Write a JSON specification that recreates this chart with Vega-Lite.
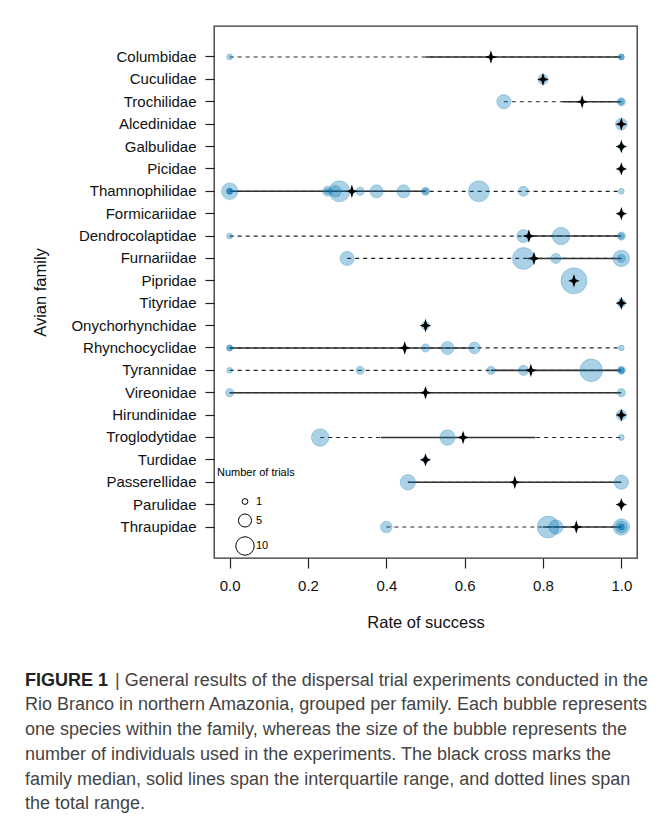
{
  "$schema": "https://vega.github.io/schema/vega-lite/v6.json",
  "width": 423,
  "height": 532,
  "autosize": {"type": "none"},
  "padding": {"left": 214, "top": 26, "right": 22, "bottom": 269},
  "background": "white",
  "config": {
    "font": "Liberation Sans",
    "view": {"stroke": "#333", "strokeWidth": 1.3},
    "axis": {"grid": false, "domain": false, "tickColor": "#222", "tickWidth": 1.2, "labelColor": "#111", "labelFont": "Liberation Sans", "titleFont": "Liberation Sans", "titleFontWeight": "normal", "titleColor": "#111"}
  },
  "title": {
    "text": "FIGURE 1",
    "subtitle": [
      "\u200b\u00a0\u00a0\u00a0\u00a0\u00a0\u00a0\u00a0\u00a0\u00a0\u00a0\u00a0\u00a0\u00a0\u00a0\u00a0\u00a0\u00a0\u00a0| General results of the dispersal trial experiments conducted in the",
      "Rio Branco in northern Amazonia, grouped per family. Each bubble represents",
      "one species within the family, whereas the size of the bubble represents the",
      "number of individuals used in the experiments. The black cross marks the",
      "family median, solid lines span the interquartile range, and dotted lines span",
      "the total range."
    ],
    "orient": "bottom",
    "anchor": "start",
    "frame": "group",
    "dx": -189,
    "offset": 41,
    "font": "Liberation Sans",
    "fontSize": 18,
    "fontWeight": "bold",
    "color": "#222",
    "subtitleFont": "Liberation Sans",
    "subtitleFontSize": 18,
    "subtitleColor": "#444",
    "subtitleLineHeight": 24.75,
    "lineHeight": 24.75,
    "subtitlePadding": -18
  },
  "datasets": {
    "points": [
      {"family": "Columbidae", "rate": 0, "n": 1},
      {"family": "Columbidae", "rate": 1, "n": 1},
      {"family": "Columbidae", "rate": 1, "n": 1},
      {"family": "Cuculidae", "rate": 0.8, "n": 3},
      {"family": "Trochilidae", "rate": 0.7, "n": 6},
      {"family": "Trochilidae", "rate": 1, "n": 2},
      {"family": "Trochilidae", "rate": 1, "n": 1},
      {"family": "Alcedinidae", "rate": 1, "n": 4},
      {"family": "Galbulidae", "rate": 1, "n": 1},
      {"family": "Galbulidae", "rate": 1, "n": 1},
      {"family": "Picidae", "rate": 1, "n": 1},
      {"family": "Thamnophilidae", "rate": 0, "n": 8},
      {"family": "Thamnophilidae", "rate": 0, "n": 1},
      {"family": "Thamnophilidae", "rate": 0, "n": 1},
      {"family": "Thamnophilidae", "rate": 0, "n": 1},
      {"family": "Thamnophilidae", "rate": 0.25, "n": 3},
      {"family": "Thamnophilidae", "rate": 0.25, "n": 1},
      {"family": "Thamnophilidae", "rate": 0.28, "n": 13},
      {"family": "Thamnophilidae", "rate": 0.27, "n": 4},
      {"family": "Thamnophilidae", "rate": 0.333, "n": 2},
      {"family": "Thamnophilidae", "rate": 0.375, "n": 5},
      {"family": "Thamnophilidae", "rate": 0.444, "n": 5},
      {"family": "Thamnophilidae", "rate": 0.5, "n": 2},
      {"family": "Thamnophilidae", "rate": 0.5, "n": 1},
      {"family": "Thamnophilidae", "rate": 0.636, "n": 13},
      {"family": "Thamnophilidae", "rate": 0.75, "n": 3},
      {"family": "Thamnophilidae", "rate": 1, "n": 1},
      {"family": "Formicariidae", "rate": 1, "n": 1},
      {"family": "Dendrocolaptidae", "rate": 0, "n": 1},
      {"family": "Dendrocolaptidae", "rate": 0.75, "n": 5},
      {"family": "Dendrocolaptidae", "rate": 0.846, "n": 9},
      {"family": "Dendrocolaptidae", "rate": 1, "n": 2},
      {"family": "Dendrocolaptidae", "rate": 1, "n": 1},
      {"family": "Furnariidae", "rate": 0.3, "n": 6},
      {"family": "Furnariidae", "rate": 0.75, "n": 14},
      {"family": "Furnariidae", "rate": 0.833, "n": 3},
      {"family": "Furnariidae", "rate": 1, "n": 8},
      {"family": "Furnariidae", "rate": 1, "n": 2},
      {"family": "Pipridae", "rate": 0.879, "n": 20},
      {"family": "Tityridae", "rate": 1, "n": 2},
      {"family": "Tityridae", "rate": 1, "n": 1},
      {"family": "Onychorhynchidae", "rate": 0.5, "n": 2},
      {"family": "Rhynchocyclidae", "rate": 0, "n": 1},
      {"family": "Rhynchocyclidae", "rate": 0, "n": 1},
      {"family": "Rhynchocyclidae", "rate": 0.5, "n": 2},
      {"family": "Rhynchocyclidae", "rate": 0.556, "n": 5},
      {"family": "Rhynchocyclidae", "rate": 0.625, "n": 4},
      {"family": "Rhynchocyclidae", "rate": 1, "n": 1},
      {"family": "Tyrannidae", "rate": 0, "n": 1},
      {"family": "Tyrannidae", "rate": 0.333, "n": 2},
      {"family": "Tyrannidae", "rate": 0.667, "n": 2},
      {"family": "Tyrannidae", "rate": 0.75, "n": 3},
      {"family": "Tyrannidae", "rate": 0.923, "n": 15},
      {"family": "Tyrannidae", "rate": 1, "n": 2},
      {"family": "Tyrannidae", "rate": 1, "n": 1},
      {"family": "Tyrannidae", "rate": 1, "n": 1},
      {"family": "Vireonidae", "rate": 0, "n": 2},
      {"family": "Vireonidae", "rate": 1, "n": 2},
      {"family": "Hirundinidae", "rate": 1, "n": 3},
      {"family": "Hirundinidae", "rate": 1, "n": 1},
      {"family": "Troglodytidae", "rate": 0.231, "n": 9},
      {"family": "Troglodytidae", "rate": 0.556, "n": 7},
      {"family": "Troglodytidae", "rate": 1, "n": 1},
      {"family": "Turdidae", "rate": 0.5, "n": 1},
      {"family": "Turdidae", "rate": 0.5, "n": 1},
      {"family": "Passerellidae", "rate": 0.455, "n": 7},
      {"family": "Passerellidae", "rate": 1, "n": 6},
      {"family": "Parulidae", "rate": 1, "n": 1},
      {"family": "Parulidae", "rate": 1, "n": 1},
      {"family": "Thraupidae", "rate": 0.4, "n": 4},
      {"family": "Thraupidae", "rate": 0.813, "n": 14},
      {"family": "Thraupidae", "rate": 0.833, "n": 6},
      {"family": "Thraupidae", "rate": 1, "n": 8},
      {"family": "Thraupidae", "rate": 1, "n": 4},
      {"family": "Thraupidae", "rate": 1, "n": 1},
      {"family": "Thraupidae", "rate": 1, "n": 1}
    ],
    "summary": [
      {"family": "Columbidae", "min": 0, "q1": 0.5, "median": 0.667, "q3": 1, "max": 1},
      {"family": "Cuculidae", "min": 0.8, "q1": 0.8, "median": 0.8, "q3": 0.8, "max": 0.8},
      {"family": "Trochilidae", "min": 0.7, "q1": 0.85, "median": 0.9, "q3": 1, "max": 1},
      {"family": "Alcedinidae", "min": 1, "q1": 1, "median": 1, "q3": 1, "max": 1},
      {"family": "Galbulidae", "min": 1, "q1": 1, "median": 1, "q3": 1, "max": 1},
      {"family": "Picidae", "min": 1, "q1": 1, "median": 1, "q3": 1, "max": 1},
      {"family": "Thamnophilidae", "min": 0, "q1": 0, "median": 0.312, "q3": 0.5, "max": 1},
      {"family": "Formicariidae", "min": 1, "q1": 1, "median": 1, "q3": 1, "max": 1},
      {"family": "Dendrocolaptidae", "min": 0, "q1": 0.75, "median": 0.764, "q3": 1, "max": 1},
      {"family": "Furnariidae", "min": 0.3, "q1": 0.76, "median": 0.777, "q3": 1, "max": 1},
      {"family": "Pipridae", "min": 0.879, "q1": 0.879, "median": 0.879, "q3": 0.879, "max": 0.879},
      {"family": "Tityridae", "min": 1, "q1": 1, "median": 1, "q3": 1, "max": 1},
      {"family": "Onychorhynchidae", "min": 0.5, "q1": 0.5, "median": 0.5, "q3": 0.5, "max": 0.5},
      {"family": "Rhynchocyclidae", "min": 0, "q1": 0, "median": 0.447, "q3": 0.625, "max": 1},
      {"family": "Tyrannidae", "min": 0, "q1": 0.667, "median": 0.769, "q3": 1, "max": 1},
      {"family": "Vireonidae", "min": 0, "q1": 0, "median": 0.5, "q3": 1, "max": 1},
      {"family": "Hirundinidae", "min": 1, "q1": 1, "median": 1, "q3": 1, "max": 1},
      {"family": "Troglodytidae", "min": 0.231, "q1": 0.386, "median": 0.596, "q3": 0.781, "max": 1},
      {"family": "Turdidae", "min": 0.5, "q1": 0.5, "median": 0.5, "q3": 0.5, "max": 0.5},
      {"family": "Passerellidae", "min": 0.455, "q1": 0.455, "median": 0.728, "q3": 1, "max": 1},
      {"family": "Parulidae", "min": 1, "q1": 1, "median": 1, "q3": 1, "max": 1},
      {"family": "Thraupidae", "min": 0.4, "q1": 0.8, "median": 0.885, "q3": 1, "max": 1}
    ]
  },
  "layer": [
    {
      "data": {"name": "points"},
      "transform": [{"filter": "datum.n < 0"}],
      "mark": {"type": "point", "filled": false, "color": "black", "strokeWidth": 1},
      "encoding": {
        "x": {"field": "rate", "type": "quantitative", "scale": {"domain": [-0.04, 1.04], "nice": false, "zero": false},
              "axis": {"title": "Rate of success", "values": [0, 0.2, 0.4, 0.6, 0.8, 1], "format": ".1f", "labelFontSize": 15, "titleFontSize": 16.5, "tickSize": 10, "labelPadding": 10, "titlePadding": 21}},
        "y": {"field": "family", "type": "nominal",
              "scale": {"type": "band", "paddingInner": 0, "paddingOuter": 0.885, "domain": ["Columbidae", "Cuculidae", "Trochilidae", "Alcedinidae", "Galbulidae", "Picidae", "Thamnophilidae", "Formicariidae", "Dendrocolaptidae", "Furnariidae", "Pipridae", "Tityridae", "Onychorhynchidae", "Rhynchocyclidae", "Tyrannidae", "Vireonidae", "Hirundinidae", "Troglodytidae", "Turdidae", "Passerellidae", "Parulidae", "Thraupidae"]},
              "axis": {"title": "Avian family", "labelFontSize": 15, "titleFontSize": 16.5, "tickSize": 9, "labelPadding": 9, "titlePadding": 22}},
        "size": {"field": "n", "type": "quantitative", "scale": {"type": "linear", "domain": [0, 10], "range": [0, 340], "zero": true},
                 "legend": {"title": "Number of trials", "values": [1, 5, 10], "orient": "none", "legendX": 3, "legendY": 441, "titleFontSize": 11, "titleFontWeight": "normal", "titleColor": "black", "labelFontSize": 11, "labelColor": "black", "symbolStrokeColor": "black", "symbolStrokeWidth": 1, "symbolOpacity": 1, "titlePadding": 18, "rowPadding": 4, "symbolOffset": 18, "labelOffset": 1}}
      }
    },
    {
      "data": {"name": "summary"},
      "mark": {"type": "rule", "color": "#222", "strokeWidth": 1.2, "strokeDash": [4, 4]},
      "encoding": {
        "x": {"field": "min", "type": "quantitative"},
        "x2": {"field": "max"},
        "y": {"field": "family", "type": "nominal"}
      }
    },
    {
      "data": {"name": "summary"},
      "mark": {"type": "rule", "color": "#333", "strokeWidth": 1.6},
      "encoding": {
        "x": {"field": "q1", "type": "quantitative"},
        "x2": {"field": "q3"},
        "y": {"field": "family", "type": "nominal"}
      }
    },
    {
      "data": {"name": "points"},
      "mark": {"type": "circle", "color": "#0072B2", "fillOpacity": 0.33, "stroke": "#0072B2", "strokeOpacity": 0.25, "strokeWidth": 1},
      "encoding": {
        "x": {"field": "rate", "type": "quantitative"},
        "y": {"field": "family", "type": "nominal"},
        "size": {"field": "n", "type": "quantitative", "legend": null}
      }
    },
    {
      "data": {"name": "summary"},
      "mark": {"type": "point", "filled": true, "color": "black", "opacity": 1, "size": 180, "shape": "M0,-1L0.24,-0.24L0.85,0L0.24,0.24L0,1L-0.24,0.24L-0.85,0L-0.24,-0.24Z"},
      "encoding": {
        "x": {"field": "median", "type": "quantitative"},
        "y": {"field": "family", "type": "nominal"}
      }
    }
  ]
}
